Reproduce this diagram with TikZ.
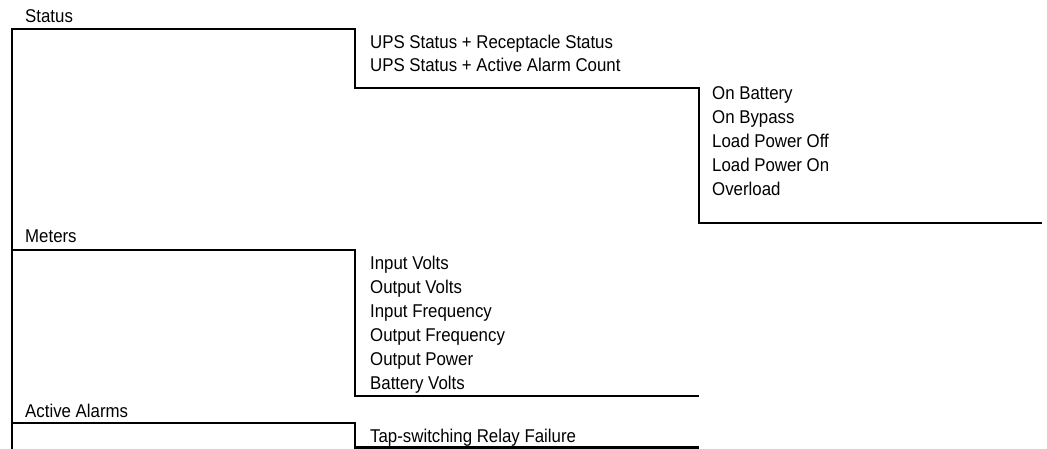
\documentclass[tikz,border=0pt]{standalone}
\usepackage{fontspec}
\setmainfont[FakeStretch=0.91]{Liberation Sans}
\begin{document}
\begin{tikzpicture}[x=1pt,y=-1pt,
  lbl/.style={anchor=base west,inner sep=0pt,font=\fontsize{18.5}{20}\selectfont},
  tree/.style={line width=2.2pt,line join=miter}]
\useasboundingbox (0,0) rectangle (1047,449);
% labels
\node[lbl] (status) at (25,23) {Status};
\node[lbl] (ups1) at (370,48.5) {UPS Status + Receptacle Status};
\node[lbl] (ups2) at (370,71.5) {UPS Status + Active Alarm Count};
\node[lbl] (onbat) at (712,100) {On Battery};
\node[lbl] (onbyp) at (712,124) {On Bypass};
\node[lbl] (lpoff) at (712,148) {Load Power Off};
\node[lbl] (lpon) at (712,172) {Load Power On};
\node[lbl] (ovl) at (712,196) {Overload};
\node[lbl] (meters) at (25,243) {Meters};
\node[lbl] (inv) at (370,269.5) {Input Volts};
\node[lbl] (outv) at (370,293.5) {Output Volts};
\node[lbl] (inf) at (370,317.5) {Input Frequency};
\node[lbl] (outf) at (370,341.5) {Output Frequency};
\node[lbl] (outp) at (370,365.5) {Output Power};
\node[lbl] (batv) at (370,389.5) {Battery Volts};
\node[lbl] (alarms) at (25,417) {Active Alarms};
\node[lbl] (tap) at (370,442) {Tap-switching Relay Failure};
% tree lines
\coordinate (s0) at (12,449);
\coordinate (s1) at (12,29);
\coordinate (s2) at (355,29);
\coordinate (s3) at (355,88);
\coordinate (s4) at (699,88);
\coordinate (s5) at (699,223);
\coordinate (s6) at (1042,223);
\coordinate (m1) at (12,250);
\coordinate (m2) at (355,250);
\coordinate (m3) at (355,396);
\coordinate (m4) at (699,396);
\coordinate (a1) at (12,423);
\coordinate (a2) at (355,423);
\coordinate (a3) at (355,447.5);
\coordinate (a4) at (699,447.5);
\draw[tree] (s0) -- (s1) -- (s2) -- (s3) -- (s4) -- (s5) -- (s6);
\draw[tree] (m1) -- (m2) -- (m3) -- (m4);
\draw[tree] (a1) -- (a2) -- (a3) -- (a4);
\end{tikzpicture}
\end{document}
